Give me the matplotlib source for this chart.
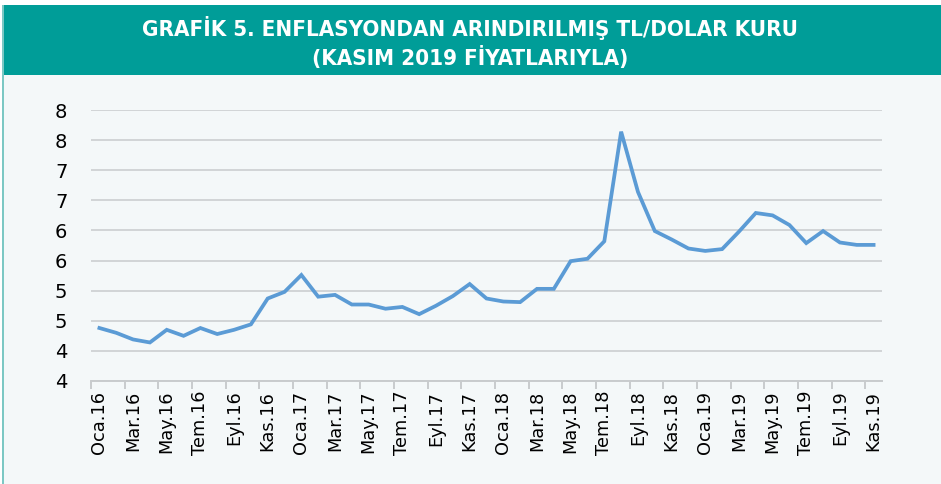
import matplotlib.pyplot as plt
from matplotlib.patches import Rectangle

# monthly real TL/USD rate, Oca.16 .. Kas.19 (Kasım 2019 prices)
months = ['Oca', 'Şub', 'Mar', 'Nis', 'May', 'Haz', 'Tem', 'Ağu', 'Eyl', 'Eki', 'Kas', 'Ara']
labels = [f'{m}.{y}' for y in ('16', '17', '18', '19') for m in months][:47]
values = [4.38, 4.30, 4.19, 4.14, 4.35, 4.25, 4.38, 4.28, 4.35, 4.44, 4.87, 4.98,
          5.26, 4.90, 4.93, 4.77, 4.77, 4.70, 4.73, 4.61, 4.75, 4.91, 5.11, 4.87,
          4.82, 4.81, 5.03, 5.03, 5.49, 5.53, 5.82, 7.64, 6.64, 5.99, 5.85, 5.70,
          5.66, 5.69, 5.98, 6.29, 6.25, 6.09, 5.79, 5.99, 5.80, 5.76, 5.76]
y_ticks = [3.5, 4.0, 4.5, 5.0, 5.5, 6.0, 6.5, 7.0, 7.5, 8.0]
y_labels = ['4', '4', '5', '5', '6', '6', '7', '7', '8', '8']

teal = '#009D98'
bg = '#F4F8F9'

fig = plt.figure(figsize=(9.41, 4.84), dpi=100)
fig.patch.set_facecolor('white')
fig.patches.append(Rectangle((2 / 941, 0), 1, 1 - 75 / 484, transform=fig.transFigure,
                             facecolor=bg, edgecolor='none', zorder=-3))
fig.patches.append(Rectangle((2 / 941, 1 - 75 / 484), 1, 70 / 484, transform=fig.transFigure,
                             facecolor=teal, edgecolor='none', zorder=-3))
fig.patches.append(Rectangle((1.5 / 941, 0), 2 / 941, 1 - 5 / 484, transform=fig.transFigure,
                             facecolor='#7CC8C4', edgecolor='none', zorder=-2))

fig.text(0.5, 1 - 28 / 484, 'GRAFİK 5. ENFLASYONDAN ARINDIRILMIŞ TL/DOLAR KURU',
         ha='center', va='center', color='white', fontsize=16, fontweight='bold',
         fontstretch='condensed')
fig.text(0.5, 1 - 57 / 484, '(KASIM 2019 FİYATLARIYLA)',
         ha='center', va='center', color='white', fontsize=16, fontweight='bold',
         fontstretch='condensed')

ax = fig.add_axes([91 / 941, 1 - 381 / 484, (882 - 91) / 941, (381 - 110) / 484])
ax.set_facecolor('none')
x = range(len(values))
ax.plot(x, values, color='#5B9BD5', linewidth=2.7, solid_joinstyle='miter', zorder=3)

ax.set_xlim(-0.5, len(values) - 0.5)
ax.set_ylim(3.5, 8.0)
ax.set_yticks(y_ticks)
ax.set_yticklabels(y_labels, fontsize=14)
ax.yaxis.grid(True, color='#D2D5D7', linewidth=1.4)
ax.set_axisbelow(True)

ax.set_xticks(range(0, len(values), 2))
ax.set_xticklabels(labels[::2], rotation=90, fontsize=12.8)
ax.set_xticks([i - 0.5 for i in range(0, len(values), 2)], minor=True)
ax.tick_params(axis='x', which='major', length=0, pad=7)
ax.tick_params(axis='x', which='minor', length=6, color='#C8CBCD', width=1.4)
ax.tick_params(axis='y', length=0, pad=17)

for side in ('top', 'right', 'left'):
    ax.spines[side].set_visible(False)
ax.spines['bottom'].set_color('#C8CBCD')
ax.spines['bottom'].set_linewidth(1.4)

plt.savefig('out.png', dpi=100)
